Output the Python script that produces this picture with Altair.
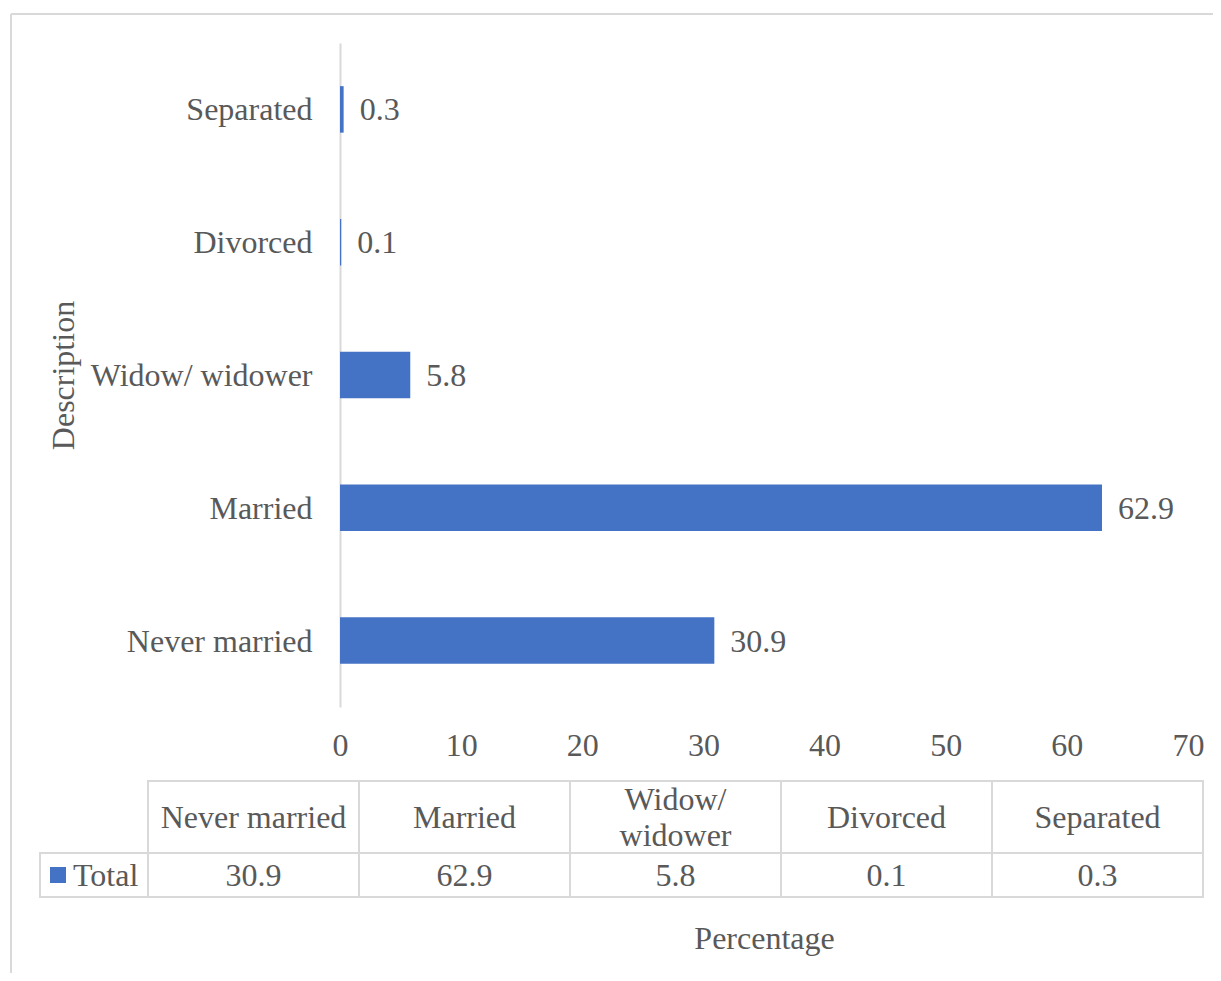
import altair as alt
import pandas as pd

# ---- data ----
categories = ["Never married", "Married", "Widow/ widower", "Divorced", "Separated"]
values = [30.9, 62.9, 5.8, 0.1, 0.3]
table_headers = ["Never married", "Married", "Widow/\nwidower", "Divorced", "Separated"]
series_name = "Total"
x_ticks = [0, 10, 20, 30, 40, 50, 60, 70]

FONT = "Liberation Serif"
TXT = "#595959"
BAR = "#4472C4"
GRID = "#D9D9D9"
FS = 32
LH = 36

order = list(reversed(categories))  # top to bottom

df = pd.DataFrame({"cat": categories, "value": values})

# ---- bar chart ----
xs = alt.Scale(domain=[0, 70], nice=False, zero=True)
ys = alt.Scale(domain=order, paddingInner=0.65, paddingOuter=0.325)

bars = alt.Chart(df).mark_bar(color=BAR).encode(
    x=alt.X("value:Q", scale=xs,
            axis=alt.Axis(values=x_ticks, grid=False, domain=False, ticks=False, tickSize=0,
                          labelPadding=38, labelBaseline="middle", labelFlush=False,
                          labelFont=FONT, labelFontSize=FS, labelColor=TXT,
                          title="Percentage", titleFont=FONT, titleFontSize=FS,
                          titleFontWeight="normal", titleColor=TXT,
                          titleY=231, titleBaseline="middle")),
    y=alt.Y("cat:N", sort=order, scale=ys,
            axis=alt.Axis(domain=True, domainColor=GRID, domainWidth=2, ticks=False, tickSize=0,
                          labelPadding=28, labelLimit=400, labelOffset=1,
                          labelFont=FONT, labelFontSize=FS, labelColor=TXT,
                          title="Description", titleFont=FONT, titleFontSize=FS,
                          titleFontWeight="normal", titleColor=TXT,
                          titleAngle=270, titleX=-267, titleY=332,
                          titleBaseline="alphabetic", titleAlign="center")),
)

labels = alt.Chart(df).mark_text(align="left", baseline="middle", dx=16, dy=1,
                                 font=FONT, fontSize=FS, color=TXT).encode(
    x=alt.X("value:Q", scale=xs),
    y=alt.Y("cat:N", sort=order, scale=ys),
    text=alt.Text("value:Q", format=".1f"),
)

main = alt.layer(bars, labels)

# ---- data table below ----
tx = alt.Scale(domain=[-1, 0, 5], range=[-300, -192, 863])
ty = alt.Scale(domain=[0, 1, 2], range=[738, 810, 854])

cells = []
for i, c in enumerate(categories):
    cells.append({"x": i, "x2": i + 1, "y": 0, "y2": 1})
    cells.append({"x": i, "x2": i + 1, "y": 1, "y2": 2})
cells.append({"x": -1, "x2": 0, "y": 1, "y2": 2})
cells_df = pd.DataFrame(cells)

cell_layer = alt.Chart(cells_df).mark_rect(fill="white", stroke=GRID, strokeWidth=2).encode(
    x=alt.X("x:Q", scale=tx, axis=None),
    x2="x2:Q",
    y=alt.Y("y:Q", scale=ty, axis=None),
    y2="y2:Q",
)

head_df = pd.DataFrame({"label": table_headers, "xc": [i + 0.5 for i in range(5)],
                        "yc": [0.5] * 5})
head_df["nlines"] = head_df["label"].str.count("\n") + 1
single_df = head_df[head_df["nlines"] == 1]
multi_df = head_df[head_df["nlines"] == 2]

head_single = alt.Chart(single_df).mark_text(align="center", baseline="middle", dy=1,
                                             font=FONT, fontSize=FS, color=TXT).encode(
    x=alt.X("xc:Q", scale=tx, axis=None),
    y=alt.Y("yc:Q", scale=ty, axis=None),
    text="label:N",
)
head_multi = alt.Chart(multi_df).mark_text(align="center", baseline="middle", lineBreak="\n",
                                           lineHeight=LH, dy=-LH / 2 + 1,
                                           font=FONT, fontSize=FS, color=TXT).encode(
    x=alt.X("xc:Q", scale=tx, axis=None),
    y=alt.Y("yc:Q", scale=ty, axis=None),
    text="label:N",
)

val_df = pd.DataFrame({"value": values, "xc": [i + 0.5 for i in range(5)], "yc": [1.5] * 5})
val_layer = alt.Chart(val_df).mark_text(align="center", baseline="middle", dy=1,
                                        font=FONT, fontSize=FS, color=TXT).encode(
    x=alt.X("xc:Q", scale=tx, axis=None),
    y=alt.Y("yc:Q", scale=ty, axis=None),
    text=alt.Text("value:Q", format=".1f"),
)

leg_df = pd.DataFrame({"name": [series_name], "xc": [-1], "yc": [1.5]})
leg_sq = alt.Chart(leg_df).mark_square(size=256, color=BAR, opacity=1, xOffset=18).encode(
    x=alt.X("xc:Q", scale=tx, axis=None),
    y=alt.Y("yc:Q", scale=ty, axis=None),
)
leg_txt = alt.Chart(leg_df).mark_text(align="left", baseline="middle", dx=33, dy=1,
                                      font=FONT, fontSize=FS, color=TXT).encode(
    x=alt.X("xc:Q", scale=tx, axis=None),
    y=alt.Y("yc:Q", scale=ty, axis=None),
    text="name:N",
)

# ---- outer chart frame (decorative) ----
frame_top = alt.Chart(pd.DataFrame({"k": [0]})).mark_rule(color=GRID, strokeWidth=2).encode(
    x=alt.value(-329), x2=alt.value(880), y=alt.value(-29))
frame_left = alt.Chart(pd.DataFrame({"k": [0]})).mark_rule(color=GRID, strokeWidth=2).encode(
    x=alt.value(-329), y=alt.value(-29), y2=alt.value(940))

chart = alt.layer(
    frame_top, frame_left, main, cell_layer, head_single, head_multi, val_layer, leg_sq, leg_txt
).resolve_scale(x="independent", y="independent").properties(
    width=848, height=664,
    autosize=alt.AutoSizeParams(type="none"),
    padding={"left": 332, "top": 35, "right": 25, "bottom": 266},
    background="white",
).configure_view(strokeWidth=0)

chart.save("out.html", embed_options={"renderer": "svg", "actions": False})
